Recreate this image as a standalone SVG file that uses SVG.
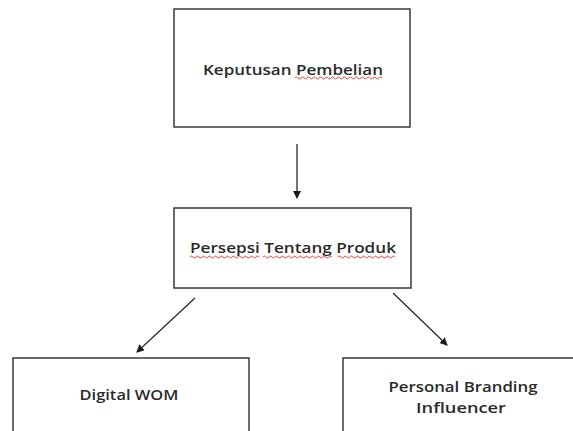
<svg xmlns="http://www.w3.org/2000/svg" width="573" height="431" viewBox="0 0 573 431">
<style>
.box{fill:#fff;stroke:#3a3a3a;stroke-width:1.5}
.lbl{font-family:"Open Sans","Liberation Sans",sans-serif;font-weight:600;font-size:15px;fill:#2a2a2a;text-anchor:middle}
.con{stroke:#2a2a2a;stroke-width:1.3;fill:none;marker-end:url(#ah)}
.sq{stroke:#e03030;stroke-width:0.9;fill:none}
</style>
<defs>
<marker id="ah" markerWidth="8" markerHeight="8" refX="7" refY="4" orient="auto" markerUnits="userSpaceOnUse">
<path d="M0,0 L8,4 L0,8 Z" fill="#1a1a1a"/>
</marker>
<path id="wv" d="M0,0 q1.5,-2 3,0 t3,0 t3,0 t3,0 t3,0 t3,0 t3,0 t3,0 t3,0 t3,0 t3,0 t3,0 t3,0 t3,0 t3,0 t3,0 t3,0 t3,0 t3,0 t3,0 t3,0 t3,0 t3,0 t3,0 t3,0 t3,0 t3,0 t3,0 t3,0 t3,0"/>
</defs>
<rect width="573" height="431" fill="#fff"/>
<g id="connectors">
<line class="con" x1="297" y1="144" x2="297" y2="198"/>
<line class="con" x1="195" y1="298" x2="137" y2="352"/>
<line class="con" x1="393" y1="293" x2="447" y2="345"/>
</g>
<g id="node-keputusan">
<rect class="box" x="174" y="9" width="236" height="118"/>
<text class="lbl" x="293" y="75" textLength="180" lengthAdjust="spacingAndGlyphs">Keputusan Pembelian</text>
<path class="sq" d="M295,78 q1.5,-2 3,0 t3,0 t3,0 t3,0 t3,0 t3,0 t3,0 t3,0 t3,0 t3,0 t3,0 t3,0 t3,0 t3,0 t3,0 t3,0 t3,0 t3,0 t3,0 t3,0 t3,0 t3,0 t3,0 t3,0 t3,0 t3,0 t3,0 t3,0 t3,0"/>
</g>
<g id="node-persepsi">
<rect class="box" x="174" y="208" width="237" height="80"/>
<text class="lbl" x="293" y="253" textLength="206" lengthAdjust="spacingAndGlyphs">Persepsi Tentang Produk</text>
<path class="sq" d="M190,257 q1.5,-2 3,0 t3,0 t3,0 t3,0 t3,0 t3,0 t3,0 t3,0 t3,0 t3,0 t3,0 t3,0 t3,0 t3,0 t3,0 t3,0 t3,0 t3,0 t3,0 t3,0 t3,0 t3,0 t3,0"/>
<path class="sq" d="M263,257 q1.5,-2 3,0 t3,0 t3,0 t3,0 t3,0 t3,0 t3,0 t3,0 t3,0 t3,0 t3,0 t3,0 t3,0 t3,0 t3,0 t3,0 t3,0 t3,0 t3,0 t3,0 t3,0 t3,0 t3,0"/>
<path class="sq" d="M338,257 q1.5,-2 3,0 t3,0 t3,0 t3,0 t3,0 t3,0 t3,0 t3,0 t3,0 t3,0 t3,0 t3,0 t3,0 t3,0 t3,0 t3,0 t3,0 t3,0 t3,0"/>
</g>
<g id="node-digital">
<rect class="box" x="13" y="358" width="236" height="80"/>
<text class="lbl" x="129" y="400" textLength="99" lengthAdjust="spacingAndGlyphs">Digital WOM</text>
</g>
<g id="node-personal">
<rect class="box" x="343" y="358" width="240" height="80"/>
<text class="lbl" x="463" y="392" textLength="149" lengthAdjust="spacingAndGlyphs">Personal Branding</text>
<text class="lbl" x="461" y="413" textLength="90" lengthAdjust="spacingAndGlyphs">Influencer</text>
</g>
</svg>
